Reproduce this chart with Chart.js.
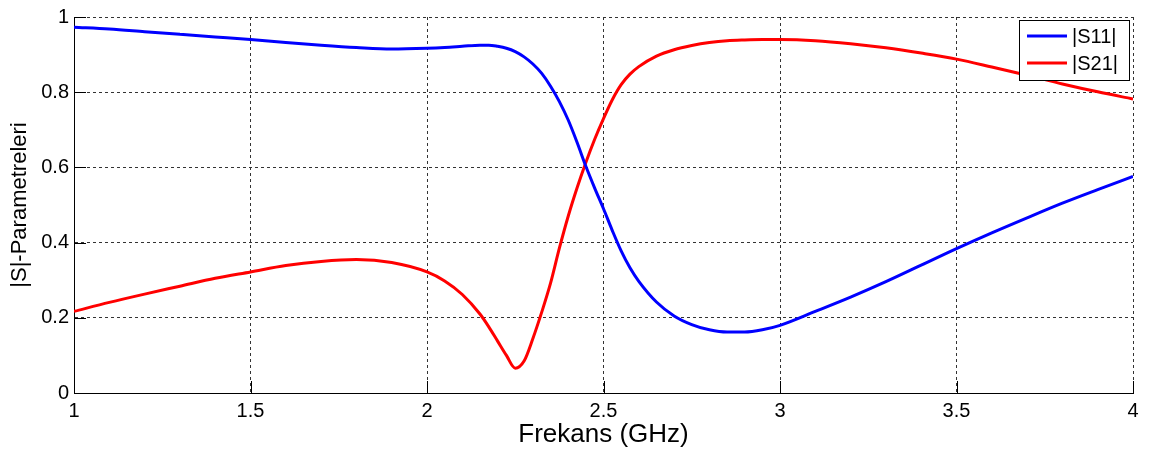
<!DOCTYPE html>
<html>
<head>
<meta charset="utf-8">
<script src="https://cdn.jsdelivr.net/npm/chart.js@4"></script>
<style>
html,body{margin:0;padding:0;background:#fff;}
#wrap{width:1160px;height:454px;position:relative;}
</style>
</head>
<body>
<div id="wrap"><canvas id="c" width="1160" height="454"></canvas></div>
<script>
const freq = [1.0,1.1,1.2,1.3,1.4,1.5,1.6,1.7,1.8,1.9,2.0,2.05,2.1,2.15,2.175,2.2,2.225,2.25,2.275,2.3,2.325,2.35,2.375,2.4,2.425,2.45,2.475,2.5,2.525,2.55,2.575,2.6,2.65,2.7,2.75,2.8,2.85,2.9,2.95,3.0,3.1,3.2,3.3,3.4,3.5,3.6,3.7,3.8,3.9,4.0];
const s11 = [0.973,0.968,0.961,0.954,0.947,0.940,0.932,0.925,0.919,0.915,0.917,0.919,0.922,0.925,0.925,0.922,0.917,0.908,0.894,0.875,0.850,0.816,0.775,0.726,0.667,0.603,0.545,0.490,0.432,0.378,0.333,0.297,0.242,0.205,0.182,0.168,0.162,0.162,0.168,0.180,0.217,0.255,0.296,0.340,0.384,0.426,0.466,0.505,0.541,0.576];
const s21 = [0.217,0.241,0.263,0.284,0.305,0.322,0.339,0.350,0.355,0.347,0.322,0.298,0.262,0.210,0.176,0.138,0.100,0.066,0.085,0.145,0.215,0.292,0.385,0.470,0.545,0.613,0.675,0.730,0.780,0.820,0.848,0.868,0.896,0.913,0.924,0.932,0.937,0.939,0.940,0.940,0.937,0.929,0.918,0.904,0.888,0.867,0.845,0.822,0.801,0.782];
const xTicks = [1,1.5,2,2.5,3,3.5,4];
const yTicks = [0,0.2,0.4,0.6,0.8,1];
const seriesLabels = ['|S11|','|S21|'];
const seriesColors = ['#0000ff','#ff0000'];
const xTitle = 'Frekans (GHz)';
const yTitle = '|S|-Parametreleri';

const FONT = '"Liberation Sans", Arial, sans-serif';

const innerTicks = {
  id: 'innerTicks',
  afterDatasetsDraw(chart) {
    const ctx = chart.ctx, a = chart.chartArea;
    const xs = chart.scales.x, ys = chart.scales.y;
    const L = 12;
    ctx.save();
    ctx.strokeStyle = '#000';
    ctx.lineWidth = 1;
    ctx.setLineDash([]);
    ctx.beginPath();
    xTicks.forEach(v => {
      const px = Math.round(xs.getPixelForValue(v)) + 0.5;
      ctx.moveTo(px, a.bottom); ctx.lineTo(px, a.bottom - L);
    });
    yTicks.forEach(v => {
      const py = Math.round(ys.getPixelForValue(v)) + 0.5;
      ctx.moveTo(a.left, py); ctx.lineTo(a.left + L, py);
    });
    ctx.stroke();
    // legend
    const bx = 1019.5, by = 20.5, bw = 110, bh = 60;
    ctx.fillStyle = '#fff';
    ctx.fillRect(bx, by, bw, bh);
    ctx.strokeStyle = '#000';
    ctx.strokeRect(bx, by, bw, bh);
    ctx.font = '20px ' + FONT;
    ctx.textBaseline = 'middle';
    ctx.textAlign = 'left';
    chart.data.datasets.forEach((ds, i) => {
      const yy = 36 + i * 27;
      ctx.strokeStyle = ds.borderColor;
      ctx.lineWidth = 3;
      ctx.beginPath();
      ctx.moveTo(1027, yy); ctx.lineTo(1067, yy);
      ctx.stroke();
      ctx.fillStyle = '#000';
      ctx.fillText(ds.label, 1072, yy + 1);
    });
    ctx.restore();
  }
};

new Chart(document.getElementById('c'), {
  type: 'line',
  data: {
    datasets: [
      { label: seriesLabels[0], data: freq.map((f,i)=>({x:f,y:s11[i]})), borderColor: seriesColors[0], borderWidth: 3, pointRadius: 0, cubicInterpolationMode: 'monotone', fill: false },
      { label: seriesLabels[1], data: freq.map((f,i)=>({x:f,y:s21[i]})), borderColor: seriesColors[1], borderWidth: 3, pointRadius: 0, cubicInterpolationMode: 'monotone', fill: false }
    ]
  },
  options: {
    responsive: false,
    animation: false,
    events: [],
    layout: { padding: { left: 0, right: 27, top: 16, bottom: 0 } },
    plugins: { legend: { display: false }, tooltip: { enabled: false } },
    scales: {
      x: {
        type: 'linear', min: 1, max: 4,
        afterBuildTicks(s) { s.ticks = xTicks.map(v => ({ value: v })); },
        afterFit(s) { s.height = 61; },
        ticks: { color: '#000', font: { size: 20, family: FONT }, padding: 6, maxRotation: 0, autoSkip: false,
                 callback: v => String(v) },
        grid: { color: '#333', lineWidth: 1, drawTicks: false },
        border: { display: true, color: '#000', width: 1, dash: [3,3] },
        title: { display: true, text: xTitle, color: '#000', font: { size: 26, family: FONT, lineHeight: 1 }, padding: { top: 0, bottom: 6 } }
      },
      y: {
        type: 'linear', min: 0, max: 1,
        afterBuildTicks(s) { s.ticks = yTicks.map(v => ({ value: v })); },
        afterFit(s) { s.width = 74; },
        ticks: { color: '#000', font: { size: 20, family: FONT }, padding: 5, callback: v => String(v) },
        grid: { color: '#333', lineWidth: 1, drawTicks: false },
        border: { display: true, color: '#000', width: 1, dash: [3,3] },
        title: { display: true, text: yTitle, color: '#000', font: { size: 22, family: FONT, lineHeight: 1 }, padding: { top: 9, bottom: 0 } }
      }
    }
  },
  plugins: [innerTicks]
});
</script>
</body>
</html>
